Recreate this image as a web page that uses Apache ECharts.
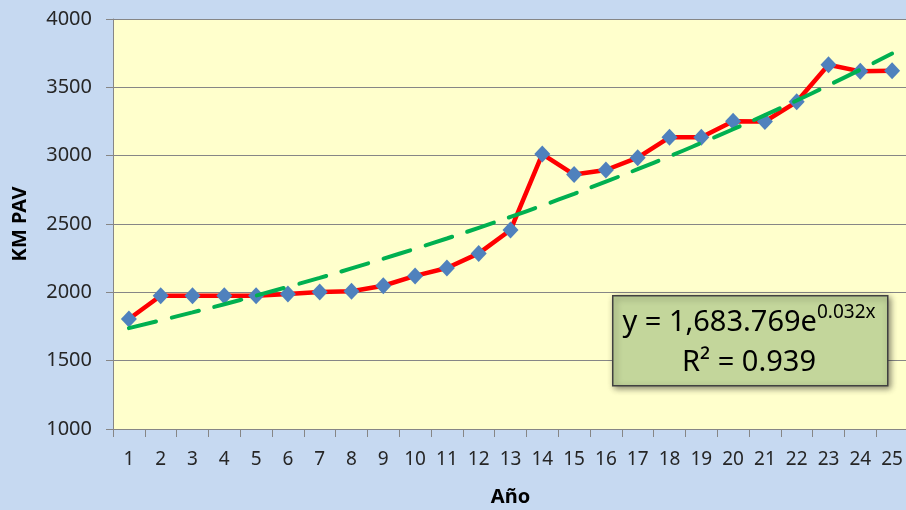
<!DOCTYPE html>
<html lang="es">
<head>
    <meta charset="UTF-8">
    <title>KM PAV por año</title>
    <script src="https://cdn.jsdelivr.net/npm/echarts@6/dist/echarts.min.js"></script>
    <style>
        body {
            margin: 0;
            background-color: #C6D9F1;
        }
        #chart {
            width: 906px;
            height: 510px;
        }
    </style>
</head>
<body>
<div id="chart"></div>
<script>
    // años 1..25
    const years = ['1', '2', '3', '4', '5', '6', '7', '8', '9', '10', '11', '12', '13',
        '14', '15', '16', '17', '18', '19', '20', '21', '22', '23', '24', '25'];
    // km pavimentados
    const kmPav = [1805, 1975, 1975, 1975, 1975, 1988, 2003, 2008, 2048, 2120, 2178, 2285, 2456,
        3012, 2862, 2895, 2985, 3134, 3134, 3252, 3250, 3394, 3665, 3617, 3622];
    // línea de tendencia exponencial (valores en cada año)
    const trend = [1738, 1795, 1853, 1913, 1976, 2040, 2106, 2175, 2246, 2319, 2394, 2472, 2552,
        2635, 2721, 2810, 2901, 2995, 3093, 3193, 3297, 3404, 3515, 3629, 3747];
    const yTicks = { min: 1000, max: 4000, step: 500 };

    const font = '"Noto Sans", sans-serif';
    const chart = echarts.init(document.getElementById('chart'));

    const option = {
        backgroundColor: '#C6D9F1',
        animation: false,
        grid: {
            left: 113,
            top: 19,
            right: -2,
            bottom: 81,
            outerBoundsMode: 'none',
            containLabel: false,
            show: true,
            backgroundColor: '#FFFFCC',
            borderWidth: 0
        },
        xAxis: {
            type: 'category',
            data: years,
            boundaryGap: true,
            name: 'Año',
            nameLocation: 'middle',
            nameGap: 58,
            nameTextStyle: { fontFamily: font, fontSize: 20, fontWeight: 'bold', color: '#000' },
            axisLine: { lineStyle: { color: '#868686', width: 1 } },
            axisTick: { show: true, length: 8, alignWithLabel: false, lineStyle: { color: '#868686' } },
            axisLabel: { fontFamily: font, fontSize: 19, color: '#262626', margin: 21, interval: 0 }
        },
        yAxis: {
            type: 'value',
            min: yTicks.min,
            max: yTicks.max,
            interval: yTicks.step,
            name: 'KM PAV',
            nameLocation: 'middle',
            nameRotate: 90,
            nameGap: 83,
            nameTextStyle: { fontFamily: font, fontSize: 20, fontWeight: 'bold', color: '#000' },
            axisLine: { show: true, lineStyle: { color: '#868686', width: 1 } },
            axisTick: { show: true, length: 7, lineStyle: { color: '#868686' } },
            axisLabel: { fontFamily: font, fontSize: 20, color: '#262626', margin: 21, formatter: v => String(v) },
            splitLine: { show: true, lineStyle: { color: '#868686', width: 1 } }
        },
        series: [
            {
                name: 'KM PAV',
                type: 'line',
                data: kmPav,
                symbol: 'diamond',
                symbolSize: [16, 17],
                itemStyle: { color: '#4F81BD' },
                lineStyle: { color: '#FF0000', width: 4.5 },
                z: 2
            },
            {
                name: 'Tendencia',
                type: 'line',
                data: trend,
                smooth: true,
                showSymbol: false,
                lineStyle: { color: '#00B050', width: 4, type: [28, 16], cap: 'round' },
                z: 3
            }
        ],
        graphic: [
            {
                type: 'rect',
                left: 612,
                top: 295,
                shape: { width: 275, height: 90 },
                style: {
                    fill: '#C3D69B',
                    stroke: '#404040',
                    lineWidth: 1.5,
                    shadowBlur: 6,
                    shadowOffsetX: 2,
                    shadowOffsetY: 2,
                    shadowColor: 'rgba(0,0,0,0.45)'
                },
                z: 10
            },
            {
                type: 'text',
                x: 749,
                y: 343,
                style: {
                    text: '{a|y = 1,683.769e}{s|0.032x}\n{a|R² = 0.939}',
                    align: 'center',
                    verticalAlign: 'middle',
                    fill: '#000',
                    rich: {
                        a: { fontFamily: font, fontSize: 29, lineHeight: 40, fill: '#000' },
                        s: { fontFamily: font, fontSize: 19, lineHeight: 40, verticalAlign: 'top', padding: [0, 0, 15, 0], fill: '#000' }
                    }
                },
                z: 11
            }
        ]
    };
    chart.setOption(option);
</script>
</body>
</html>
